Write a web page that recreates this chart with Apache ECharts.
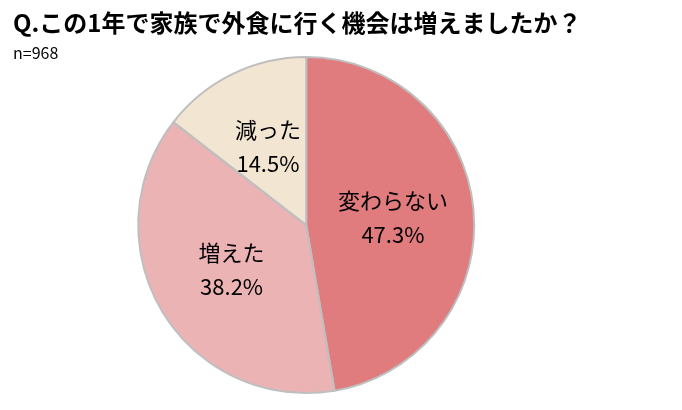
<!DOCTYPE html>
<html>
<head>
<meta charset="utf-8">
<script src="https://cdn.jsdelivr.net/npm/echarts@6/dist/echarts.min.js"></script>
<style>html,body{margin:0;padding:0;background:#fff}#chart{width:682px;height:410px}</style>
</head>
<body>
<div id="chart"></div>
<script>
var categories = ['変わらない', '増えた', '減った'];
var values = [47.3, 38.2, 14.5];
var colors = ['#e07b7e', '#ecb3b5', '#f2e6d2'];

var chart = echarts.init(document.getElementById('chart'));
chart.setOption({
    animation: false,
    title: [{
        text: 'Q.この1年で家族で外食に行く機会は増えましたか？',
        left: 8, top: 6,
        textStyle: {fontFamily: 'Noto Sans CJK JP', fontSize: 24, fontWeight: 'bold', color: '#000'}
    }, {
        text: 'n=968',
        left: 8, top: 40,
        textStyle: {fontFamily: 'Noto Sans CJK JP', fontSize: 16, fontWeight: 'normal', color: '#000'}
    }],
    series: [{
        type: 'pie',
        center: ['44.9%', '54.9%'],
        radius: 168,
        startAngle: 90,
        clockwise: true,
        data: categories.map(function (c, i) {
            return {name: c, value: values[i], itemStyle: {color: colors[i]}};
        }),
        itemStyle: {borderColor: '#bfbfbf', borderWidth: 2},
        label: {
            position: 'inner',
            formatter: function (p) { return p.name + '\n' + p.value.toFixed(1) + '%'; },
            fontFamily: 'Noto Sans CJK JP',
            fontSize: 22,
            lineHeight: 34,
            color: '#000'
        },
        labelLine: {show: false}
    }]
});
</script>
</body>
</html>
